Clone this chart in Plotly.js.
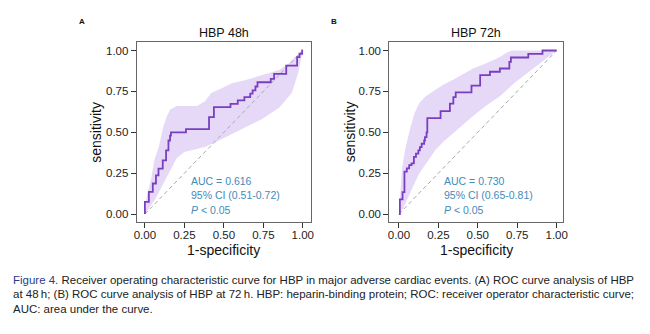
<!DOCTYPE html>
<html>
<head>
<meta charset="utf-8">
<script src="https://cdn.plot.ly/plotly-3.0.1.min.js"></script>
<style>html,body{margin:0;padding:0;background:#fff;}#chart{width:650px;height:334px;}</style>
</head>
<body>
<div id="chart"></div>
<script>
// ---------- data ----------
const tickVals = [0, 0.25, 0.5, 0.75, 1];
const tickText = ['0.00', '0.25', '0.50', '0.75', '1.00'];
const panelTitles = ['HBP 48h', 'HBP 72h'];
const panelLetters = ['A', 'B'];
const aucTextA = ['AUC = 0.616', '95% CI (0.51-0.72)', '<i>P</i> < 0.05'];
const aucTextB = ['AUC = 0.730', '95% CI (0.65-0.81)', '<i>P</i> < 0.05'];
const diagX = [0, 1];
const diagY = [0, 1];

// Panel A ROC (1-specificity, sensitivity), step points
const fprA = [0, 0, 0.025, 0.05, 0.07, 0.086, 0.113, 0.134, 0.149, 0.159, 0.165, 0.26, 0.406, 0.437, 0.542, 0.588, 0.63, 0.667, 0.682, 0.70, 0.713, 0.797, 0.818, 0.895, 0.964, 0.979, 0.996, 1];
const tprA = [0, 0.075, 0.136, 0.187, 0.237, 0.278, 0.329, 0.39, 0.45, 0.48, 0.50, 0.52, 0.593, 0.654, 0.674, 0.695, 0.715, 0.736, 0.756, 0.78, 0.806, 0.827, 0.857, 0.908, 0.959, 0.98, 1.0, 1.0];
const upXA = [0, 0.01, 0.04, 0.06, 0.09, 0.115, 0.136, 0.16, 0.2, 0.25, 0.33, 0.38, 0.42, 0.49, 0.55, 0.64, 0.74, 0.85, 0.91, 0.96, 1];
const upYA = [0, 0.10, 0.22, 0.33, 0.42, 0.53, 0.59, 0.64, 0.66, 0.66, 0.66, 0.69, 0.74, 0.77, 0.80, 0.82, 0.85, 0.88, 0.92, 0.97, 1];
const loXA = [0, 0.03, 0.07, 0.11, 0.15, 0.20, 0.25, 0.30, 0.38, 0.45, 0.53, 0.64, 0.74, 0.85, 0.93, 0.97, 1];
const loYA = [0, 0.04, 0.10, 0.17, 0.25, 0.34, 0.38, 0.39, 0.41, 0.44, 0.48, 0.53, 0.58, 0.65, 0.74, 0.86, 1];

// Panel B ROC
const fprB = [0, 0.006, 0.023, 0.035, 0.05, 0.065, 0.08, 0.095, 0.108, 0.123, 0.133, 0.144, 0.16, 0.165, 0.175, 0.18, 0.264, 0.323, 0.345, 0.36, 0.46, 0.515, 0.577, 0.64, 0.70, 0.71, 0.82, 0.91, 1];
const tprB = [0, 0.09, 0.134, 0.26, 0.28, 0.30, 0.31, 0.35, 0.37, 0.39, 0.41, 0.43, 0.45, 0.47, 0.50, 0.587, 0.63, 0.675, 0.715, 0.744, 0.785, 0.85, 0.87, 0.89, 0.93, 0.957, 0.979, 1.0, 1.0];
const upXB = [0, 0.01, 0.02, 0.04, 0.07, 0.10, 0.13, 0.17, 0.23, 0.28, 0.34, 0.41, 0.47, 0.55, 0.64, 0.69, 0.72, 1];
const upYB = [0, 0.15, 0.28, 0.40, 0.52, 0.62, 0.68, 0.72, 0.76, 0.79, 0.82, 0.86, 0.89, 0.92, 0.96, 0.99, 1, 1];
const loXB = [0, 0.03, 0.06, 0.09, 0.13, 0.18, 0.23, 0.28, 0.34, 0.41, 0.47, 0.55, 0.64, 0.73, 0.82, 0.90, 0.96, 1];
const loYB = [0, 0.04, 0.11, 0.17, 0.25, 0.32, 0.39, 0.44, 0.49, 0.55, 0.60, 0.66, 0.72, 0.80, 0.87, 0.93, 0.97, 1];

const captionLines = [
  '<span style="color:#2b3a8f">Figure 4.</span> Receiver operating characteristic curve for HBP in major adverse cardiac events. (A) ROC curve analysis of HBP',
  'at 48\u2009h; (B) ROC curve analysis of HBP at 72\u2009h. HBP: heparin-binding protein; ROC: receiver operator characteristic curve;',
  'AUC: area under the curve.'
];

// ---------- style ----------
const W = 650, H = 334;
const LINE = '#7a3fc0', BAND = 'rgba(165,120,225,0.28)', TXT = '#3f8bba';
const FONT = 'Liberation Sans, Arial, sans-serif';
const px = v => v / W, py = v => 1 - v / H;

function band(ux, uy, lx, ly, xa, ya) {
  return {x: ux.concat(lx.slice().reverse()), y: uy.concat(ly.slice().reverse()),
    xaxis: xa, yaxis: ya, type: 'scatter', mode: 'lines', fill: 'toself',
    fillcolor: BAND, line: {width: 0}, hoverinfo: 'skip', showlegend: false};
}
function diag(xa, ya) {
  return {x: diagX, y: diagY, xaxis: xa, yaxis: ya, type: 'scatter', mode: 'lines',
    line: {color: '#a8a8a8', width: 1, dash: '4px,3px'}, showlegend: false};
}
function roc(x, y, xa, ya) {
  return {x: x, y: y, xaxis: xa, yaxis: ya, type: 'scatter', mode: 'lines',
    line: {color: LINE, width: 1.8, shape: 'hv'}, showlegend: false};
}

const traces = [
  band(upXA, upYA, loXA, loYA, 'x', 'y'), diag('x', 'y'), roc(fprA, tprA, 'x', 'y'),
  band(upXB, upYB, loXB, loYB, 'x2', 'y2'), diag('x2', 'y2'), roc(fprB, tprB, 'x2', 'y2')
];

function ax(dom, rng, anchor, tl, so) {
  return {domain: dom, range: rng, anchor: anchor, showline: true, mirror: true,
    linecolor: '#666', linewidth: 1, ticks: 'outside', ticklen: tl, tickcolor: '#333',
    ticklabelstandoff: so,
    tickvals: tickVals, ticktext: tickText, tickfont: {family: FONT, size: 11.5, color: '#222'},
    showgrid: false, zeroline: false, fixedrange: true};
}
const yDom = [1 - 222.3 / H, 1 - 42.3 / H];

const annotations = [];
const centersX = [223.7, 476.3];
const yTitleX = [96.5, 350];
const aucLeft = [189, 442.3];
const letterX = [82, 334];
[aucTextA, aucTextB].forEach((lines, i) => {
  annotations.push({text: panelTitles[i], xref: 'paper', yref: 'paper', x: px(centersX[i]), y: py(32.7),
    xanchor: 'center', yanchor: 'middle', showarrow: false, font: {family: FONT, size: 12.5, color: '#111'}});
  annotations.push({text: '<b>' + panelLetters[i] + '</b>', xref: 'paper', yref: 'paper', x: px(letterX[i]), y: py(22),
    xanchor: 'center', yanchor: 'middle', showarrow: false, font: {family: FONT, size: 8, color: '#111'}});
  annotations.push({text: 'sensitivity', xref: 'paper', yref: 'paper', x: px(yTitleX[i]), y: py(132.3),
    xanchor: 'center', yanchor: 'middle', textangle: -90, showarrow: false, font: {family: FONT, size: 14, color: '#111'}});
  annotations.push({text: '1-specificity', xref: 'paper', yref: 'paper', x: px(centersX[i]), y: py(250),
    xanchor: 'center', yanchor: 'middle', showarrow: false, font: {family: FONT, size: 14, color: '#111'}});
  lines.forEach((t, j) => {
    annotations.push({text: t, xref: 'paper', yref: 'paper', x: px(aucLeft[i]), y: py(180.7 + 14.6 * j),
      xanchor: 'left', yanchor: 'middle', showarrow: false, font: {family: FONT, size: 10.5, color: TXT}});
  });
});
captionLines.forEach((t, j) => {
  annotations.push({text: t, xref: 'paper', yref: 'paper', x: px(11), y: py(280 + 14.3 * j),
    xanchor: 'left', yanchor: 'middle', showarrow: false, align: 'left',
    font: {family: FONT, size: 11.5, color: '#222'}});
});

const layout = {
  width: W, height: H, margin: {l: 0, r: 0, t: 0, b: 0},
  paper_bgcolor: '#fff', plot_bgcolor: '#fff', showlegend: false,
  font: {family: FONT},
  xaxis: ax([136.7 / W, 310.7 / W], [-0.052, 1.05], 'y', 5, -3),
  yaxis: ax(yDom, [-0.05, 1.05], 'x', 5, 0),
  xaxis2: ax([389.3 / W, 563.3 / W], [-0.061, 1.042], 'y2', 5, -3),
  yaxis2: ax(yDom, [-0.05, 1.05], 'x2', 5, 0),
  annotations: annotations
};

Plotly.newPlot('chart', traces, layout, {displayModeBar: false, staticPlot: true}).then(gd => {
  // condense the caption lines so they fit the justified width of the reference
  const texts = Array.from(gd.querySelectorAll('.annotation-text'));
  const cap = texts.filter(t => /^(Figure 4\.|at 48|AUC: area)/.test(t.textContent));
  let factor = 1;
  cap.forEach(t => {
    if (t.textContent.startsWith('Figure 4.')) factor = 621 / t.getComputedTextLength();
  });
  cap.forEach(t => {
    const natural = t.getComputedTextLength();
    const target = t.textContent.startsWith('AUC: area') ? natural * factor : 621;
    t.setAttribute('textLength', target.toFixed(1));
    t.setAttribute('lengthAdjust', 'spacingAndGlyphs');
  });
});
</script>
</body>
</html>
